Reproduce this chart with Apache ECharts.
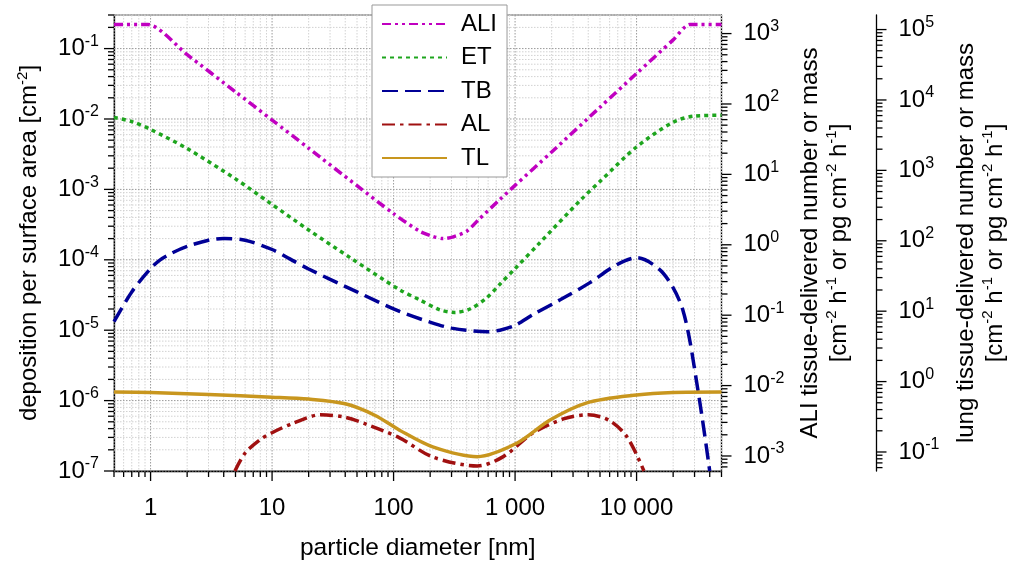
<!DOCTYPE html>
<html>
<head>
<meta charset="utf-8">
<script src="https://cdn.jsdelivr.net/npm/echarts@6/dist/echarts.min.js"></script>
<style>
html,body{margin:0;padding:0;background:#fff}
#chart{width:1009px;height:565px}
</style>
</head>
<body>
<div id="chart"></div>
<script>
// Particle diameter [nm] and deposition per surface area [cm^-2] for each region
const aliX = [0.5, 0.95, 2, 5, 10, 20, 50, 100, 164, 210, 255, 310, 400, 500, 750, 1000, 2000, 5000, 10000, 20000, 27500, 50000];
const aliY = [0.22, 0.22, 0.082, 0.0243, 0.00966, 0.00384, 0.00113, 4.52e-4, 2.54e-4, 2.15e-4, 2.0e-4, 2.12e-4, 2.54e-4, 3.7e-4, 7.2e-4, 1.14e-3, 3.4e-3, 0.0147, 0.0443, 0.133, 0.22, 0.22];

const etX = [0.5, 0.7, 1, 2, 5, 9.5, 20, 44, 112, 164, 240, 318, 425, 586, 750, 1000, 1600, 3500, 5000, 10000, 20000, 30000, 50000];
const etY = [0.0105, 0.0092, 7.1e-3, 3.8e-3, 1.41e-3, 6.5e-4, 2.65e-4, 1.07e-4, 3.76e-5, 2.7e-5, 1.95e-5, 1.79e-5, 2.0e-5, 2.9e-5, 4.5e-5, 7.5e-5, 1.75e-4, 7.2e-4, 1.3e-3, 4.0e-3, 9.0e-3, 0.011, 0.0113];

const tbX = [0.5, 0.7, 1, 1.2, 1.5, 2, 3, 4, 6, 10, 14, 20, 50, 112, 200, 300, 590, 750, 1000, 1400, 2350, 4100, 6860, 10000, 16500, 24000, 32000, 40000];
const tbY = [1.32e-5, 3.5e-5, 7.5e-5, 1.0e-4, 1.25e-4, 1.55e-4, 1.9e-4, 2.0e-4, 1.9e-4, 1.4e-4, 1.03e-4, 7.4e-5, 3.5e-5, 1.85e-5, 1.3e-5, 1.07e-5, 9.5e-6, 1.0e-5, 1.17e-5, 1.66e-5, 2.7e-5, 4.7e-5, 8.5e-5, 1.07e-4, 6.5e-5, 1.95e-5, 1.4e-6, 1.0e-7];

const alX = [4.95, 6, 8, 10, 15, 25, 40, 60, 112, 210, 490, 800, 1400, 2500, 4000, 6000, 8400, 11500];
const alY = [1.0e-7, 1.8e-7, 2.8e-7, 3.5e-7, 4.8e-7, 6.3e-7, 5.8e-7, 4.6e-7, 2.96e-7, 1.58e-7, 1.18e-7, 1.6e-7, 3.46e-7, 5.5e-7, 6.3e-7, 5.2e-7, 3.0e-7, 1.0e-7];

const tlX = [0.5, 1, 3, 10, 20, 40, 70, 112, 210, 490, 1040, 1940, 3900, 10000, 20000, 50000];
const tlY = [1.32e-6, 1.3e-6, 1.22e-6, 1.12e-6, 1.05e-6, 9.0e-7, 6.2e-7, 3.8e-7, 2.2e-7, 1.6e-7, 2.5e-7, 5.3e-7, 9.3e-7, 1.2e-6, 1.3e-6, 1.32e-6];

// Tick labels
const xTickValues = [1, 10, 100, 1000, 10000];
const xTickLabels = ['1', '10', '100', '1 000', '10 000'];
const leftExponents = [-7, -6, -5, -4, -3, -2, -1];
const aliExponents = [-3, -2, -1, 0, 1, 2, 3];
const lungExponents = [-1, 0, 1, 2, 3, 4, 5];

// Axis extents
const xRange = [0.5, 50000];
const leftRange = [1e-7, 0.3];
const aliRange = [6.12e-4, 1836];
const lungRange = [0.0537, 161000];
const lungOffset = 155;

const FONT = '"Liberation Sans", Arial, sans-serif';

function pairs(xs, ys) { return xs.map((x, i) => [x, ys[i]]); }

// All 1..9 x 10^k values inside a range, flagged major for powers of ten
function logTicks(lo, hi) {
  const out = [];
  for (let k = Math.floor(Math.log10(lo)) - 1; k <= Math.ceil(Math.log10(hi)); k++) {
    for (let m = 1; m <= 9; m++) {
      const v = m * Math.pow(10, k);
      if (v >= lo * 0.9999 && v <= hi * 1.0001) out.push([v, m === 1 ? 1 : 0]);
    }
  }
  return out;
}

function decadeLabel(exps) {
  return function (value) {
    const e = Math.log10(value);
    const r = Math.round(e);
    if (Math.abs(e - r) > 1e-6 || exps.indexOf(r) < 0) return '';
    return '{b|10}{s|' + r + '}';
  };
}

const labelRich = {
  b: { fontSize: 24, fontFamily: FONT, color: '#000', lineHeight: 30 },
  s: { fontSize: 16, fontFamily: FONT, color: '#000', lineHeight: 16, verticalAlign: 'top' }
};
const nameRich = {
  t: { fontSize: 24, fontFamily: FONT, color: '#000', lineHeight: 29 },
  s: { fontSize: 15, fontFamily: FONT, color: '#000', lineHeight: 14, verticalAlign: 'top' }
};

const axisLineStyle = { show: true, lineStyle: { color: '#000', width: 1.3 } };

// Grid lines and outward ticks, placed through the axis scales
function xTickSeries() {
  return {
    type: 'custom', xAxisIndex: 0, yAxisIndex: 0, silent: true, z: 1,
    data: logTicks(xRange[0], xRange[1]).map(t => [t[0], 1e-3, t[1]]),
    renderItem(params, api) {
      const cs = params.coordSys;
      const px = api.coord([api.value(0), 1e-3])[0];
      const major = api.value(2) === 1;
      const bottom = cs.y + cs.height;
      return {
        type: 'group', children: [
          { type: 'line', shape: { x1: px, y1: cs.y, x2: px, y2: bottom },
            style: { stroke: major ? '#9a9a9a' : '#d2d2d2', lineWidth: 1, lineDash: [1.5, 1.5] } },
          { type: 'line', shape: { x1: px, y1: bottom, x2: px, y2: bottom + (major ? 10 : 6) },
            style: { stroke: '#000', lineWidth: 1.3 } }
        ]
      };
    }
  };
}

function yTickSeries(axisIndex, range, side, withGrid) {
  return {
    type: 'custom', xAxisIndex: 0, yAxisIndex: axisIndex, silent: true, z: 1,
    data: logTicks(range[0], range[1]).map(t => [1, t[0], t[1]]),
    renderItem(params, api) {
      const cs = params.coordSys;
      const py = api.coord([1, api.value(1)])[1];
      const major = api.value(2) === 1;
      const len = major ? 10 : 6;
      const children = [];
      if (withGrid) {
        children.push({ type: 'line', shape: { x1: cs.x, y1: py, x2: cs.x + cs.width, y2: py },
          style: { stroke: major ? '#9a9a9a' : '#d2d2d2', lineWidth: 1, lineDash: [1.5, 1.5] } });
      }
      let x0;
      if (side === 'left') x0 = cs.x;
      else if (side === 'right') x0 = cs.x + cs.width;
      else x0 = cs.x + cs.width + lungOffset;
      const dir = side === 'left' ? -1 : 1;
      children.push({ type: 'line', shape: { x1: x0, y1: py, x2: x0 + dir * len, y2: py },
        style: { stroke: '#000', lineWidth: 1.3 } });
      return { type: 'group', children };
    }
  };
}

function lineSeries(name, xs, ys, color, dash, smooth) {
  return {
    name, type: 'line', xAxisIndex: 0, yAxisIndex: 0,
    data: pairs(xs, ys), showSymbol: false, symbol: 'none', smooth: smooth, z: 3,
    lineStyle: { color, width: 3.5, type: dash, cap: 'butt' },
    itemStyle: { color }
  };
}

const chart = echarts.init(document.getElementById('chart'), null, { renderer: 'canvas' });
chart.setOption({
  animation: false,
  backgroundColor: '#fff',
  grid: {
    left: 114, right: 287.5, top: 15, bottom: 94,
    containLabel: false, outerBoundsMode: 'none',
    show: true, borderColor: '#555', borderWidth: 1
  },
  legend: {
    orient: 'vertical', left: 372, top: 5,
    padding: [7, 10, 7, 9], itemWidth: 65, itemHeight: 14, itemGap: 9.5,
    backgroundColor: '#fff', borderColor: '#999', borderWidth: 1,
    itemStyle: { opacity: 0 },
    textStyle: { fontSize: 24, fontFamily: FONT, color: '#000', padding: [0, 0, 0, 9] },
    data: ['ALI', 'ET', 'TB', 'AL', 'TL']
  },
  xAxis: {
    type: 'log', logBase: 10, min: xRange[0], max: xRange[1],
    axisLine: axisLineStyle, axisTick: { show: false }, splitLine: { show: false },
    axisLabel: {
      margin: 25, fontSize: 24, fontFamily: FONT, color: '#000',
      formatter(v) {
        for (let i = 0; i < xTickValues.length; i++) {
          if (Math.abs(v - xTickValues[i]) < 1e-6 * xTickValues[i]) return xTickLabels[i];
        }
        return '';
      }
    },
    name: 'particle diameter [nm]', nameLocation: 'middle', nameGap: 65,
    nameTextStyle: { fontSize: 24.5, fontFamily: FONT, color: '#000' }
  },
  yAxis: [
    {
      type: 'log', logBase: 10, min: leftRange[0], max: leftRange[1], position: 'left',
      axisLine: axisLineStyle, axisTick: { show: false }, splitLine: { show: false },
      axisLabel: { margin: 15, formatter: decadeLabel(leftExponents), rich: labelRich },
      name: '{t|deposition per surface area [cm}{s|-2}{t|]}', nameLocation: 'middle', nameGap: 70,
      nameTextStyle: { rich: nameRich }
    },
    {
      type: 'log', logBase: 10, min: aliRange[0], max: aliRange[1], position: 'right',
      axisLine: axisLineStyle, axisTick: { show: false }, splitLine: { show: false },
      axisLabel: { margin: 22, formatter: decadeLabel(aliExponents), rich: labelRich },
      name: '{t|ALI tissue-delivered number or mass}\n{t|[cm}{s|-2}{t| h}{s|-1}{t| or pg cm}{s|-2}{t| h}{s|-1}{t|]}',
      nameLocation: 'middle', nameGap: 74,
      nameTextStyle: { rich: nameRich, align: 'center' }
    },
    {
      type: 'log', logBase: 10, min: lungRange[0], max: lungRange[1], position: 'right', offset: lungOffset,
      axisLine: axisLineStyle, axisTick: { show: false }, splitLine: { show: false },
      axisLabel: { margin: 22, formatter: decadeLabel(lungExponents), rich: labelRich },
      name: '{t|lung tissue-delivered number or mass}\n{t|[cm}{s|-2}{t| h}{s|-1}{t| or pg cm}{s|-2}{t| h}{s|-1}{t|]}',
      nameLocation: 'middle', nameGap: 75,
      nameTextStyle: { rich: nameRich, align: 'center' }
    }
  ],
  series: [
    xTickSeries(),
    yTickSeries(0, leftRange, 'left', true),
    yTickSeries(1, aliRange, 'right', false),
    yTickSeries(2, lungRange, 'lung', false),
    lineSeries('ALI', aliX, aliY, '#c000c0', [9, 4, 3, 4, 3, 4], 0.25),
    lineSeries('ET', etX, etY, '#1ea51e', [4, 4], 0.3),
    lineSeries('TB', tbX, tbY, '#000096', [16, 7], 0.3),
    lineSeries('AL', alX, alY, '#a01010', [13, 5, 3.5, 5], 0.3),
    lineSeries('TL', tlX, tlY, '#c8961e', 'solid', 0.3)
  ]
});
</script>
</body>
</html>
